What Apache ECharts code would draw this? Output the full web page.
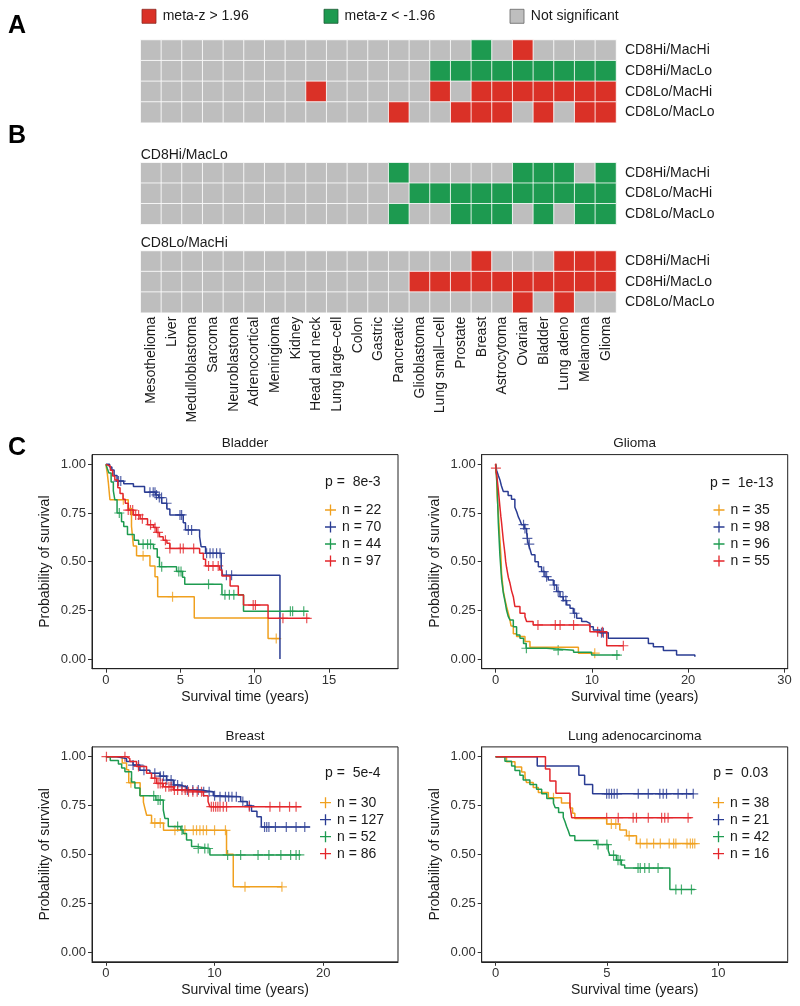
<!DOCTYPE html>
<html><head><meta charset="utf-8">
<script src="https://cdn.jsdelivr.net/npm/echarts@6/dist/echarts.min.js"></script>
<style>html,body{margin:0;padding:0;background:#fff}#c{width:800px;height:1006px}</style>
</head><body><div id="c"></div><script>
// ---------- Heatmap data ----------
const cancers = ['Mesothelioma','Liver','Medulloblastoma','Sarcoma','Neuroblastoma','Adrenocortical','Meningioma','Kidney','Head and neck','Lung large\u2013cell','Colon','Gastric','Pancreatic','Glioblastoma','Lung small\u2013cell','Prostate','Breast','Astrocytoma','Ovarian','Bladder','Lung adeno','Melanoma','Glioma'];
const rowsA = ['CD8Hi/MacHi','CD8Hi/MacLo','CD8Lo/MacHi','CD8Lo/MacLo'];
const rowsB1 = ['CD8Hi/MacHi','CD8Lo/MacHi','CD8Lo/MacLo'];
const rowsB2 = ['CD8Hi/MacHi','CD8Hi/MacLo','CD8Lo/MacLo'];
// 1 = meta-z > 1.96, -1 = meta-z < -1.96, 0 = not significant
const A_CD8HiMacHi = [0,0,0,0,0,0,0,0,0,0,0,0,0,0,0,0,-1,0,1,0,0,0,0];
const A_CD8HiMacLo = [0,0,0,0,0,0,0,0,0,0,0,0,0,0,-1,-1,-1,-1,-1,-1,-1,-1,-1];
const A_CD8LoMacHi = [0,0,0,0,0,0,0,0,1,0,0,0,0,0,1,0,1,1,1,1,1,1,1];
const A_CD8LoMacLo = [0,0,0,0,0,0,0,0,0,0,0,0,1,0,0,1,1,1,0,1,0,1,1];
const B1_CD8HiMacHi = [0,0,0,0,0,0,0,0,0,0,0,0,-1,0,0,0,0,0,-1,-1,-1,0,-1];
const B1_CD8LoMacHi = [0,0,0,0,0,0,0,0,0,0,0,0,0,-1,-1,-1,-1,-1,-1,-1,-1,-1,-1];
const B1_CD8LoMacLo = [0,0,0,0,0,0,0,0,0,0,0,0,-1,0,0,-1,-1,-1,0,-1,0,-1,-1];
const B2_CD8HiMacHi = [0,0,0,0,0,0,0,0,0,0,0,0,0,0,0,0,1,0,0,0,1,1,1];
const B2_CD8HiMacLo = [0,0,0,0,0,0,0,0,0,0,0,0,0,1,1,1,1,1,1,1,1,1,1];
const B2_CD8LoMacLo = [0,0,0,0,0,0,0,0,0,0,0,0,0,0,0,0,0,0,1,0,1,0,0];

// ---------- Kaplan-Meier data: [time (years), survival] step points ----------
const bladderN22 = [[0,1],[0.09,0.955],[0.16,0.909],[0.27,0.818],[1.5,0.773],[1.72,0.682],[1.85,0.58],[2.06,0.53],[2.96,0.478],[3.3,0.423],[3.48,0.32],[5.94,0.21],[10.9,0.105],[11.7,0.105]];
const bladderN22Cens = [1.17,2.5,4.48,11.45];
const bladderN70 = [[0,1],[0.25,0.986],[0.4,0.971],[0.55,0.943],[0.75,0.914],[1.2,0.9],[1.85,0.886],[2.6,0.857],[3.35,0.843],[3.55,0.829],[3.75,0.8],[4.1,0.771],[4.3,0.74],[5.2,0.7],[5.35,0.663],[6.3,0.628],[6.4,0.577],[6.7,0.543],[7.75,0.47],[7.85,0.43],[11.7,0]];
const bladderN70Cens = [0.85,1.0,2.96,3.18,3.3,3.4,3.59,3.74,4.08,4.98,5.09,5.54,5.76,6.77,7.0,7.2,7.44,7.67,8.1,8.45];
const bladderN44 = [[0,1],[0.1,0.977],[0.2,0.955],[0.35,0.909],[0.5,0.864],[0.6,0.818],[0.75,0.75],[1.05,0.705],[1.2,0.68],[1.45,0.64],[1.9,0.61],[2.2,0.589],[3.2,0.566],[3.45,0.522],[3.6,0.474],[4.75,0.45],[5.15,0.42],[5.3,0.384],[7.8,0.33],[9.25,0.245],[13.6,0.245]];
const bladderN44Cens = [0.9,2.5,2.8,3.0,3.75,4.9,5.05,6.9,8.0,8.3,8.6,12.4,12.55,13.3];
const bladderN97 = [[0,1],[0.1,0.99],[0.3,0.97],[0.45,0.94],[0.6,0.92],[0.8,0.88],[0.95,0.85],[1.15,0.82],[1.3,0.8],[1.5,0.765],[1.85,0.74],[2.3,0.72],[2.8,0.69],[3.2,0.676],[3.4,0.65],[3.6,0.628],[3.85,0.61],[4.1,0.594],[4.3,0.568],[6.3,0.543],[6.55,0.512],[6.7,0.478],[7.65,0.457],[7.8,0.426],[8.35,0.375],[8.9,0.329],[9.25,0.277],[10.9,0.209],[13.7,0.209]];
const bladderN97Cens = [1.5,1.65,1.8,2.0,2.2,2.45,3.0,3.3,3.5,4.0,4.3,5.0,5.2,5.9,6.9,7.2,7.55,9.9,10.05,11.9,13.5];

const gliomaN35 = [[0,1],[0.1,0.94],[0.17,0.83],[0.3,0.74],[0.45,0.61],[0.55,0.53],[0.62,0.44],[0.8,0.35],[1.0,0.3],[1.14,0.27],[1.32,0.235],[1.49,0.2],[1.6,0.17],[1.84,0.13],[2.18,0.115],[3.05,0.09],[3.57,0.06],[8.6,0.03],[10.3,0.03]];
const gliomaN35Cens = [10.3];
const gliomaN98 = [[0,1],[0.1,0.97],[0.3,0.94],[0.45,0.92],[0.6,0.89],[0.8,0.86],[1.3,0.84],[1.65,0.82],[2.0,0.78],[2.2,0.755],[2.36,0.73],[2.55,0.71],[2.7,0.69],[3.0,0.67],[3.22,0.65],[3.3,0.62],[3.4,0.59],[3.6,0.56],[3.74,0.535],[4.09,0.5],[4.44,0.474],[4.78,0.449],[5.13,0.423],[5.47,0.406],[6.0,0.38],[6.34,0.346],[6.69,0.32],[7.03,0.3],[7.38,0.277],[7.73,0.26],[8.07,0.235],[8.42,0.209],[8.94,0.192],[9.46,0.183],[9.8,0.166],[10.15,0.149],[10.85,0.135],[11.7,0.106],[15.87,0.08],[16.39,0.063],[17.43,0.043],[18.8,0.02],[20.7,0.012]];
const gliomaN98Cens = [2.9,3.05,3.3,3.5,5.0,5.3,6.1,6.5,7.0,7.3,8.2,11.0,11.2];
const gliomaN96 = [[0,1],[0.1,0.93],[0.17,0.87],[0.28,0.7],[0.45,0.53],[0.62,0.41],[0.8,0.34],[1.0,0.29],[1.14,0.25],[1.3,0.22],[1.49,0.2],[1.84,0.166],[2.18,0.123],[2.53,0.106],[2.9,0.08],[3.17,0.055],[5.3,0.045],[8.1,0.034],[9.97,0.02],[12.9,0.02]];
const gliomaN96Cens = [3.2,6.5,12.6];
const gliomaN55 = [[0,1],[0.02,0.98],[0.15,0.93],[0.28,0.87],[0.45,0.78],[0.55,0.73],[0.62,0.7],[0.72,0.65],[0.8,0.61],[0.9,0.57],[0.97,0.54],[1.05,0.5],[1.14,0.47],[1.25,0.44],[1.32,0.42],[1.49,0.39],[1.66,0.35],[1.84,0.32],[2.0,0.27],[2.53,0.235],[3.05,0.217],[3.22,0.192],[3.9,0.175],[9.8,0.14],[11.54,0.068],[13.27,0.068]];
const gliomaN55Cens = [0.03,4.4,6.2,6.7,8.1,10.6,11.1,13.27];

const breastN30 = [[0,1],[1.5,0.967],[1.9,0.933],[2.1,0.867],[3.15,0.8],[3.45,0.767],[3.6,0.733],[3.75,0.7],[4.2,0.66],[5.3,0.623],[11.1,0.5],[11.72,0.334],[16.2,0.334]];
const breastN30Cens = [2.3,4.5,5.0,6.35,7.27,8.04,8.34,8.65,8.96,9.26,10.0,11.0,12.8,16.2];
const breastN127 = [[0,1],[0.98,0.99],[1.9,0.975],[2.5,0.957],[3.13,0.93],[4.05,0.915],[4.97,0.9],[5.58,0.88],[6.2,0.855],[6.8,0.846],[7.42,0.83],[8.65,0.82],[9.88,0.8],[10.5,0.795],[12.4,0.77],[13.0,0.75],[13.4,0.72],[13.9,0.693],[14.3,0.64],[18.8,0.64]];
const breastN127Cens = [2.5,3.0,3.5,4.5,5.0,5.3,5.6,6.0,6.3,6.6,7.0,7.5,8.0,8.5,9.0,9.5,10.0,10.5,11.0,11.3,11.6,12.0,12.6,13.2,14.6,14.8,15.0,15.6,16.6,17.5,18.3];
const breastN52 = [[0,1],[0.4,0.98],[1.15,0.962],[1.45,0.942],[1.75,0.923],[2.36,0.87],[2.67,0.84],[3.13,0.8],[4.6,0.778],[5.28,0.727],[5.43,0.684],[5.74,0.642],[6.9,0.625],[7.1,0.607],[7.42,0.573],[7.88,0.54],[8.34,0.53],[9.57,0.497],[17.85,0.497]];
const breastN52Cens = [4.4,4.8,5.0,6.6,7.0,8.5,9.1,9.4,11.2,12.4,14.0,15.0,16.1,17.0,17.5,17.8];
const breastN86 = [[0,1],[1.9,0.99],[2.2,0.975],[2.82,0.95],[3.74,0.915],[4.2,0.89],[4.66,0.863],[5.28,0.846],[6.2,0.83],[7.42,0.82],[8.96,0.8],[9.4,0.77],[9.57,0.744],[18.0,0.744]];
const breastN86Cens = [0.05,1.75,3.0,4.5,4.8,5.0,5.2,5.5,5.8,6.0,6.3,6.6,7.0,7.3,7.6,8.0,8.4,8.8,9.7,9.9,10.1,10.3,10.5,10.8,11.1,13.2,15.1,16.0,16.9,17.5];

const lungN38 = [[0,1],[0.49,0.974],[0.87,0.947],[1.17,0.921],[1.32,0.895],[1.39,0.868],[1.69,0.842],[1.92,0.816],[2.37,0.79],[2.96,0.763],[3.34,0.737],[3.46,0.71],[3.56,0.684],[4.99,0.655],[5.58,0.625],[5.88,0.595],[6.33,0.555],[8.95,0.555]];
const lungN38Cens = [2.6,5.2,5.4,6.0,6.5,6.8,7.1,7.4,7.8,8.0,8.1,8.6,8.75,8.85,8.95];
const lungN21 = [[0,1],[1.87,0.952],[3.74,0.905],[4.0,0.857],[4.36,0.81],[8.9,0.81]];
const lungN21Cens = [4.99,5.1,5.21,5.33,5.46,6.41,6.86,7.38,7.53,7.68,8.2,8.58,8.88];
const lungN42 = [[0,1],[0.42,0.976],[0.72,0.952],[0.87,0.929],[1.09,0.905],[1.24,0.881],[1.54,0.857],[1.84,0.833],[2.07,0.81],[2.3,0.786],[2.6,0.762],[2.68,0.738],[2.83,0.714],[3.04,0.69],[3.12,0.667],[3.19,0.643],[3.27,0.619],[3.34,0.595],[3.56,0.571],[4.54,0.55],[5.06,0.52],[5.13,0.495],[5.43,0.47],[5.65,0.445],[5.8,0.43],[7.83,0.32],[8.95,0.32]];
const lungN42Cens = [4.6,5.0,5.3,5.5,5.6,6.4,6.5,6.7,6.9,7.3,8.1,8.35,8.8];
const lungN16 = [[0,1],[2.24,0.9375],[2.44,0.875],[2.71,0.8125],[3.34,0.75],[3.42,0.6875],[8.8,0.6875]];
const lungN16Cens = [4.99,5.51,6.18,6.33,6.86,7.46,7.6,7.75,8.65];

const pValues = ['p =  8e-3','p =  1e-13','p =  5e-4','p =  0.03'];
const panelTitles = ['Bladder','Glioma','Breast','Lung adenocarcinoma'];
const xTicks = [[0,5,10,15],[0,10,20,30],[0,10,20],[0,5,10]];
const yTicks = [0,0.25,0.5,0.75,1];

// ---------- styling ----------
const FONT = '"Liberation Sans", Arial, Helvetica, sans-serif';
const ORANGE = '#F0A01E', BLUE = '#2A3C93', GREEN = '#1E9B50', RED = '#E3262B';
const HRED = '#DA3127', HGREEN = '#1D9A50', HGRAY = '#BEBEBE';
const PLUS = 'path://M-0.12,-1H0.12V-0.12H1V0.12H0.12V1H-0.12V0.12H-1V-0.12H-0.12Z';

function survAt(curve, t) {
  let s = curve[0][1];
  for (const p of curve) { if (p[0] <= t) s = p[1]; else break; }
  return s;
}

const panels = [
  {grid:{left:92, top:454.6, width:306, height:214.1}, xr:[-0.935,19.635], legend:[325,503], pPos:[325,481.7], tPos:[245,443],
   curves:[[bladderN22,bladderN22Cens,'n = 22',ORANGE],[bladderN70,bladderN70Cens,'n = 70',BLUE],[bladderN44,bladderN44Cens,'n = 44',GREEN],[bladderN97,bladderN97Cens,'n = 97',RED]]},
  {grid:{left:481.7, top:454.6, width:306, height:214.1}, xr:[-1.445,30.345], legend:[713.5,503], pPos:[710,482.7], tPos:[634.7,443],
   curves:[[gliomaN35,gliomaN35Cens,'n = 35',ORANGE],[gliomaN98,gliomaN98Cens,'n = 98',BLUE],[gliomaN96,gliomaN96Cens,'n = 96',GREEN],[gliomaN55,gliomaN55Cens,'n = 55',RED]]},
  {grid:{left:92, top:746.9, width:306, height:214.9}, xr:[-1.28,26.88], legend:[320,795.7], pPos:[325,773.3], tPos:[245,736.5],
   curves:[[breastN30,breastN30Cens,'n = 30',ORANGE],[breastN127,breastN127Cens,'n = 127',BLUE],[breastN52,breastN52Cens,'n = 52',GREEN],[breastN86,breastN86Cens,'n = 86',RED]]},
  {grid:{left:481.7, top:746.9, width:306, height:214.9}, xr:[-0.625,13.125], legend:[713,795.7], pPos:[713.3,773.3], tPos:[634.7,736.5],
   curves:[[lungN38,lungN38Cens,'n = 38',ORANGE],[lungN21,lungN21Cens,'n = 21',BLUE],[lungN42,lungN42Cens,'n = 42',GREEN],[lungN16,lungN16Cens,'n = 16',RED]]}
];

const grids = [
  {left:140.7, top:40, width:475.3, height:82.7},
  {left:140.7, top:162.7, width:475.3, height:61.6},
  {left:140.7, top:251, width:475.3, height:61.7}
];
const xAxes = [], yAxes = [], series = [], legends = [];
const heatRows = [rowsA, rowsB1, rowsB2];
const heatData = [[A_CD8HiMacHi,A_CD8HiMacLo,A_CD8LoMacHi,A_CD8LoMacLo],[B1_CD8HiMacHi,B1_CD8LoMacHi,B1_CD8LoMacLo],[B2_CD8HiMacHi,B2_CD8HiMacLo,B2_CD8LoMacLo]];
for (let g = 0; g < 3; g++) {
  xAxes.push({type:'category', gridIndex:g, data:cancers, axisLine:{show:false}, axisTick:{show:false}, splitLine:{show:false},
    axisLabel: g === 2 ? {show:true, rotate:90, interval:0, fontSize:14, color:'#1a1a1a', margin:4, fontFamily:FONT} : {show:false}});
  yAxes.push({type:'category', gridIndex:g, data:heatRows[g], inverse:true, position:'right', axisLine:{show:false}, axisTick:{show:false},
    axisLabel:{fontSize:14, color:'#1a1a1a', margin:9, fontFamily:FONT}});
  const d = [];
  heatData[g].forEach((row, r) => row.forEach((v, c) => d.push([c, r, v])));
  series.push({type:'heatmap', xAxisIndex:g, yAxisIndex:g, data:d, itemStyle:{borderColor:'#ffffff', borderWidth:0.8}, emphasis:{disabled:true}, animation:false});
}

const graphics = [
  {type:'text', x:8, y:14, style:{text:'A', font:'bold 25px ' + FONT, fill:'#000'}},
  {type:'text', x:8, y:124, style:{text:'B', font:'bold 25px ' + FONT, fill:'#000'}},
  {type:'text', x:8, y:436, style:{text:'C', font:'bold 25px ' + FONT, fill:'#000'}},
  {type:'rect', shape:{x:142, y:9.3, width:14, height:14}, style:{fill:HRED, stroke:'#8a2a22', lineWidth:0.8}},
  {type:'text', x:162.7, y:16.3, style:{text:'meta-z > 1.96', font:'14px ' + FONT, fill:'#1a1a1a', verticalAlign:'middle'}},
  {type:'rect', shape:{x:324, y:9.3, width:14, height:14}, style:{fill:HGREEN, stroke:'#1d5a35', lineWidth:0.8}},
  {type:'text', x:344.6, y:16.3, style:{text:'meta-z < -1.96', font:'14px ' + FONT, fill:'#1a1a1a', verticalAlign:'middle'}},
  {type:'rect', shape:{x:510, y:9.3, width:14, height:14}, style:{fill:HGRAY, stroke:'#666', lineWidth:0.8}},
  {type:'text', x:530.8, y:16.3, style:{text:'Not significant', font:'14px ' + FONT, fill:'#1a1a1a', verticalAlign:'middle'}},
  {type:'text', x:140.7, y:155, style:{text:'CD8Hi/MacLo', font:'14px ' + FONT, fill:'#1a1a1a', verticalAlign:'middle'}},
  {type:'text', x:140.7, y:243.5, style:{text:'CD8Lo/MacHi', font:'14px ' + FONT, fill:'#1a1a1a', verticalAlign:'middle'}}
];

panels.forEach((P, i) => {
  const gi = 3 + i;
  grids.push(Object.assign({show:true, borderColor:'#222', borderWidth:1, backgroundColor:'transparent'}, P.grid));
  xAxes.push({type:'value', gridIndex:gi, min:P.xr[0], max:P.xr[1], splitLine:{show:false},
    axisLine:{show:true, onZero:false, lineStyle:{color:'#222', width:1}},
    axisTick:{show:true, length:4, customValues:xTicks[i], lineStyle:{color:'#333'}},
    axisLabel:{customValues:xTicks[i], fontSize:13, color:'#333', margin:5, fontFamily:FONT},
    name:'Survival time (years)', nameLocation:'middle', nameGap:21, nameTextStyle:{fontSize:14, color:'#1a1a1a', fontFamily:FONT}});
  yAxes.push({type:'value', gridIndex:gi, min:-0.05, max:1.05, splitLine:{show:false},
    axisLine:{show:true, onZero:false, lineStyle:{color:'#222', width:1}},
    axisTick:{show:true, length:4, customValues:yTicks, lineStyle:{color:'#333'}},
    axisLabel:{customValues:yTicks, fontSize:13, color:'#333', margin:6, fontFamily:FONT, formatter:v => Number(v).toFixed(2)},
    name:'Probability of survival', nameLocation:'middle', nameRotate:90, nameGap:40, nameTextStyle:{fontSize:14, color:'#1a1a1a', fontFamily:FONT}});
  P.curves.forEach(([curve, cens, name, col]) => {
    series.push({type:'line', name:name, xAxisIndex:gi, yAxisIndex:gi, data:curve, step:'end', showSymbol:false, symbol:'none',
      lineStyle:{color:col, width:1.5}, itemStyle:{color:col}, animation:false, silent:true});
    series.push({type:'scatter', name:name, xAxisIndex:gi, yAxisIndex:gi, data:cens.map(t => [t, survAt(curve, t)]),
      symbol:PLUS, symbolSize:10, itemStyle:{color:col}, animation:false, silent:true});
  });
  legends.push({orient:'vertical', left:P.legend[0], top:P.legend[1], padding:0, itemWidth:13, itemHeight:11, itemGap:3,
    icon:PLUS, selectedMode:false, data:P.curves.map(c => c[2]), textStyle:{fontSize:14, lineHeight:14, color:'#1a1a1a', fontFamily:FONT}});
  graphics.push({type:'text', x:P.tPos[0], y:P.tPos[1], style:{text:panelTitles[i], font:'13.5px ' + FONT, fill:'#1a1a1a', align:'center', verticalAlign:'middle'}});
  graphics.push({type:'text', x:P.pPos[0], y:P.pPos[1], style:{text:pValues[i], font:'14px ' + FONT, fill:'#1a1a1a', verticalAlign:'middle'}});
});

const chart = echarts.init(document.getElementById('c'), null, {renderer:'canvas'});
chart.setOption({
  animation:false,
  backgroundColor:'#ffffff',
  textStyle:{fontFamily:FONT},
  grid:grids, xAxis:xAxes, yAxis:yAxes, series:series, legend:legends,
  visualMap:{type:'piecewise', show:false, dimension:2, seriesIndex:[0,1,2],
    pieces:[{value:1, color:HRED},{value:-1, color:HGREEN},{value:0, color:HGRAY}]},
  graphic:graphics
});
</script></body></html>
